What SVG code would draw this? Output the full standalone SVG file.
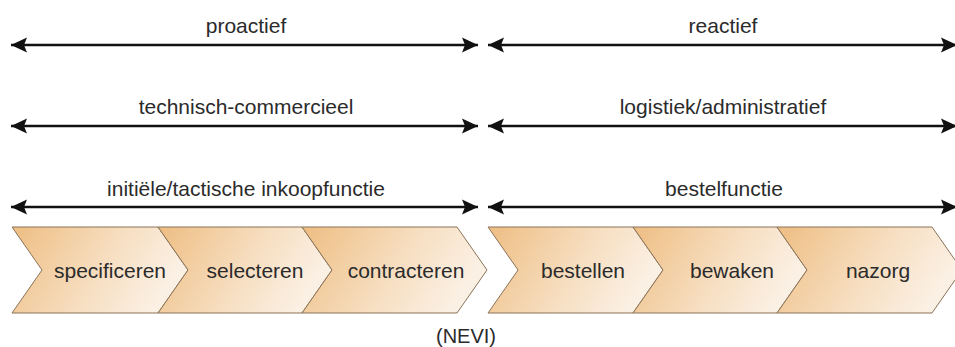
<svg xmlns="http://www.w3.org/2000/svg" width="955" height="347" viewBox="0 0 955 347">
  <style>
    .lbl { font-family: "Liberation Sans", Arial, sans-serif; font-size: 21px; fill: #2b2b2b; text-anchor: middle; }
    .chev { stroke: #8a7358; stroke-width: 1; fill: url(#chevGrad); }
    .arr { stroke: #111; stroke-width: 2.6; fill: none; marker-start: url(#ah); marker-end: url(#ah); }
  </style>
  <defs>
    <linearGradient id="chevGrad" x1="0" y1="0" x2="1" y2="0.3">
      <stop offset="0" stop-color="#eebd82"/>
      <stop offset="0.55" stop-color="#f6dcbc"/>
      <stop offset="1" stop-color="#fbf0e4"/>
    </linearGradient>
    <marker id="ah" viewBox="0 0 16 16" refX="16" refY="8" markerWidth="16" markerHeight="16" markerUnits="userSpaceOnUse" orient="auto-start-reverse">
      <path d="M0,0.5 L16,8 L0,15.5 L3,8 Z" fill="#111"/>
    </marker>
  </defs>
  <rect width="955" height="347" fill="#ffffff"/>

  <g id="connectors">
    <line class="arr" x1="11" y1="45" x2="478" y2="45"/>
    <line class="arr" x1="488" y1="45" x2="957" y2="45"/>
    <line class="arr" x1="11" y1="126" x2="478" y2="126"/>
    <line class="arr" x1="488" y1="126" x2="957" y2="126"/>
    <line class="arr" x1="11" y1="207" x2="478" y2="207"/>
    <line class="arr" x1="488" y1="207" x2="957" y2="207"/>
  </g>

  <g id="label-proactief"><text class="lbl" x="246" y="33">proactief</text></g>
  <g id="label-reactief"><text class="lbl" x="723" y="33">reactief</text></g>
  <g id="label-technisch"><text class="lbl" x="246" y="114">technisch-commercieel</text></g>
  <g id="label-logistiek"><text class="lbl" x="723" y="114">logistiek/administratief</text></g>
  <g id="label-initiele"><text class="lbl" x="246" y="196">initiële/tactische inkoopfunctie</text></g>
  <g id="label-bestelfunctie"><text class="lbl" x="724" y="196">bestelfunctie</text></g>

  <g id="specificeren">
    <path class="chev" d="M12,227 L158,227 L188,270 L158,313 L12,313 L42,270 Z"/>
    <text class="lbl" x="110" y="278">specificeren</text>
  </g>
  <g id="selecteren">
    <path class="chev" d="M158,227 L302,227 L332,270 L302,313 L158,313 L188,270 Z"/>
    <text class="lbl" x="255" y="278">selecteren</text>
  </g>
  <g id="contracteren">
    <path class="chev" d="M302,227 L457,227 L487,270 L457,313 L302,313 L332,270 Z"/>
    <text class="lbl" x="406" y="278">contracteren</text>
  </g>
  <g id="bestellen">
    <path class="chev" d="M488,227 L633,227 L663,270 L633,313 L488,313 L518,270 Z"/>
    <text class="lbl" x="583" y="278">bestellen</text>
  </g>
  <g id="bewaken">
    <path class="chev" d="M633,227 L777,227 L807,270 L777,313 L633,313 L663,270 Z"/>
    <text class="lbl" x="732" y="278">bewaken</text>
  </g>
  <g id="nazorg">
    <path class="chev" d="M777,227 L932,227 L962,270 L932,313 L777,313 L807,270 Z"/>
    <text class="lbl" x="878" y="278">nazorg</text>
  </g>

  <g id="source"><text class="lbl" x="466" y="343" style="font-size:20px">(NEVI)</text></g>
</svg>
